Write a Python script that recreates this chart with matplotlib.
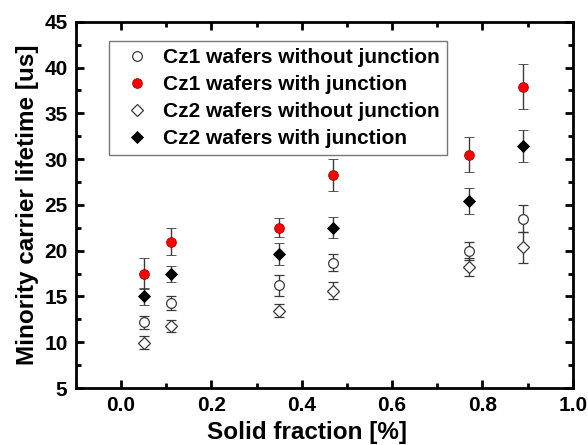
import numpy as np
import matplotlib.pyplot as plt
from matplotlib.ticker import MultipleLocator
from matplotlib.lines import Line2D

plt.rcParams['font.family'] = ['Liberation Sans', 'DejaVu Sans']
plt.rcParams['font.weight'] = 'bold'

# solid fraction positions of the six samples
frac = [0.05, 0.11, 0.35, 0.47, 0.77, 0.89]

# lifetimes [us] and their error bars
cz1_nj = [12.2, 14.3, 16.2, 18.7, 20.0, 23.5]
cz1_nj_err = [0.7, 0.8, 1.15, 0.9, 1.0, 1.5]
cz1_j = [17.5, 21.0, 22.5, 28.3, 30.5, 37.9]
cz1_j_err = [1.65, 1.5, 1.05, 1.75, 1.95, 2.45]
cz2_nj = [9.95, 11.75, 13.45, 15.65, 18.2, 20.35]
cz2_nj_err = [0.72, 0.68, 0.72, 0.95, 0.95, 1.64]
cz2_j = [15.0, 17.45, 19.6, 22.5, 25.45, 31.4]
cz2_j_err = [0.9, 0.86, 1.2, 1.13, 1.45, 1.75]

labels = ['Cz1 wafers without junction', 'Cz1 wafers with junction',
          'Cz2 wafers without junction', 'Cz2 wafers with junction']

fig = plt.figure(figsize=(5.88, 4.45), dpi=100)
ax = fig.add_axes([0.129, 0.128, 0.845, 0.823])

ecol = '#3a3a3a'
kw = dict(ls='none', ecolor=ecol, elinewidth=1.0, capsize=3.5, capthick=1.0)
styles = [
    dict(marker='o', ms=7, mfc='white', mec=ecol, mew=0.9),
    dict(marker='o', ms=7, mfc='#ff0000', mec='#aa0000', mew=0.6),
    dict(marker='D', ms=6, mfc='white', mec=ecol, mew=0.9),
    dict(marker='D', ms=6, mfc='black', mec='black', mew=0.6),
]
series = [(cz1_nj, cz1_nj_err), (cz1_j, cz1_j_err),
          (cz2_nj, cz2_nj_err), (cz2_j, cz2_j_err)]
for (vals, err), st in zip(series, styles):
    ax.errorbar(frac, vals, yerr=err, **st, **kw)

ax.set_xlim(-0.1, 1.0)
ax.set_ylim(5, 45)
ax.xaxis.set_major_locator(MultipleLocator(0.2))
ax.xaxis.set_minor_locator(MultipleLocator(0.1))
ax.yaxis.set_major_locator(MultipleLocator(5))
ax.yaxis.set_minor_locator(MultipleLocator(2.5))
ax.xaxis.set_major_formatter(lambda v, p: f'{v:.1f}')

for s in ax.spines.values():
    s.set_linewidth(2.0)
ax.tick_params(which='both', direction='in', top=True, right=True, width=2.0)
ax.tick_params(which='major', length=6, labelsize=15, pad=6)
ax.tick_params(which='minor', length=3.5)

ax.set_xlabel('Solid fraction [%]', fontsize=17.5, fontweight='bold')
ax.xaxis.set_label_coords(0.465, -0.09)
ax.set_ylabel('Minority carrier lifetime [us]', fontsize=17.5, fontweight='bold', labelpad=4)

handles = [Line2D([], [], ls='none', **st) for st in styles]
leg = ax.legend(handles, labels, loc='upper left', bbox_to_anchor=(0.066, 0.948),
                fontsize=15, frameon=True, fancybox=False, edgecolor='#555555',
                handletextpad=0.25, borderpad=0.35, labelspacing=0.38,
                handlelength=2.0, borderaxespad=0)
leg.get_frame().set_linewidth(1.0)

fig.savefig('out.png', dpi=100)
